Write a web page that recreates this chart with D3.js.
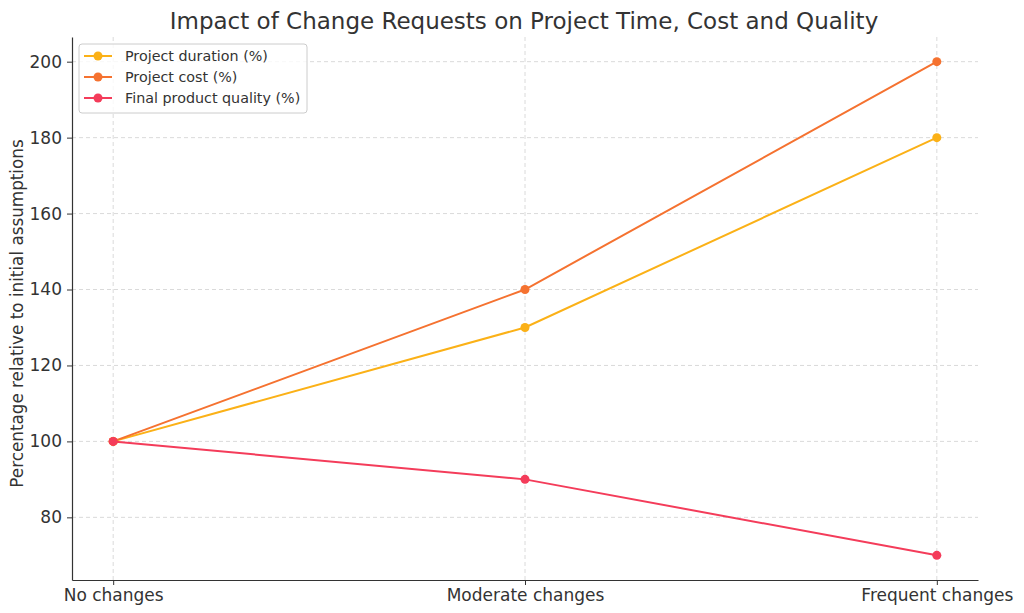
<!DOCTYPE html>
<html>
<head>
<meta charset="utf-8">
<script src="https://cdn.jsdelivr.net/npm/d3@7"></script>
<style>
  body { margin: 0; background: #fff; }
  text { font-family: "DejaVu Sans", sans-serif; fill: #333; }
</style>
</head>
<body>
<div id="chart"></div>
<script>
var categories = ["No changes", "Moderate changes", "Frequent changes"];
var duration = [100, 130, 180];
var cost = [100, 140, 200];
var quality = [100, 90, 70];
var yTicks = [80, 100, 120, 140, 160, 180, 200];
var seriesNames = ["Project duration (%)", "Project cost (%)", "Final product quality (%)"];
var seriesColors = ["#fbb117", "#f57230", "#f43c5a"];

var W = 1024, H = 613;
var margin = {top: 37, right: 46, bottom: 33, left: 72};
var width = W - margin.left - margin.right;
var height = H - margin.top - margin.bottom;

var svg = d3.select("#chart").append("svg")
    .attr("width", W).attr("height", H);

var g = svg.append("g")
    .attr("transform", "translate(" + margin.left + "," + margin.top + ")");

var x = d3.scaleLinear().domain([-0.1, 2.1]).range([0, width]);
var y = d3.scaleLinear().domain([63.5, 206.5]).range([height, 0]);

// grid
g.selectAll(".hgrid").data(yTicks).enter().append("line")
    .attr("x1", 0).attr("x2", width)
    .attr("y1", function(d) { return y(d); }).attr("y2", function(d) { return y(d); })
    .style("stroke", "#d0d0d0").style("stroke-dasharray", "4,3").style("stroke-width", 0.8);
g.selectAll(".vgrid").data(categories).enter().append("line")
    .attr("x1", function(d, i) { return x(i); }).attr("x2", function(d, i) { return x(i); })
    .attr("y1", 0).attr("y2", height)
    .style("stroke", "#d0d0d0").style("stroke-dasharray", "4,3").style("stroke-width", 0.8);

// axes
var xAxis = d3.axisBottom(x).tickValues([0, 1, 2])
    .tickFormat(function(d) { return categories[d]; }).tickSizeInner(5).tickSizeOuter(0).tickPadding(4);
var yAxis = d3.axisLeft(y).tickValues(yTicks).tickSizeInner(5).tickSizeOuter(0).tickPadding(5);

var gx = g.append("g").attr("transform", "translate(0," + height + ")").call(xAxis);
var gy = g.append("g").call(yAxis);
[gx, gy].forEach(function(a) {
  a.select(".domain").style("stroke", "#333").style("stroke-width", 1.2);
  a.selectAll(".tick line").style("stroke", "#333");
  a.selectAll(".tick text").style("font-size", "17px").style("fill", "#333")
    .style("font-family", "DejaVu Sans, sans-serif");
});

// lines
var allSeries = [duration, cost, quality];
var line = d3.line().x(function(d, i) { return x(i); }).y(function(d) { return y(d); });

allSeries.forEach(function(s, k) {
  g.append("path").datum(s).attr("d", line)
    .style("fill", "none").style("stroke", seriesColors[k]).style("stroke-width", 2);
  g.selectAll(".pt" + k).data(s).enter().append("circle")
    .attr("cx", function(d, i) { return x(i); })
    .attr("cy", function(d) { return y(d); })
    .attr("r", 4.5).style("fill", seriesColors[k]);
});

// title and axis label
svg.append("text").attr("x", 524).attr("y", 29).attr("text-anchor", "middle")
    .style("font-size", "23px").text("Impact of Change Requests on Project Time, Cost and Quality");
svg.append("text")
    .attr("transform", "translate(23," + (margin.top + height / 2 + 5) + ") rotate(-90)")
    .attr("text-anchor", "middle").style("font-size", "16.8px")
    .text("Percentage relative to initial assumptions");

// legend
var leg = g.append("g").attr("transform", "translate(7,7)");
leg.append("rect").attr("width", 228).attr("height", 69).attr("rx", 3)
    .style("fill", "#fff").style("fill-opacity", 0.8).style("stroke", "#ccc");
seriesNames.forEach(function(n, k) {
  var yy = 12 + k * 21;
  leg.append("line").attr("x1", 5).attr("x2", 33).attr("y1", yy).attr("y2", yy)
    .style("stroke", seriesColors[k]).style("stroke-width", 2);
  leg.append("circle").attr("cx", 19).attr("cy", yy).attr("r", 4.5).style("fill", seriesColors[k]);
  leg.append("text").attr("x", 46).attr("y", yy).attr("dy", "0.35em")
    .style("font-size", "14.3px").text(n);
});
</script>
</body>
</html>
